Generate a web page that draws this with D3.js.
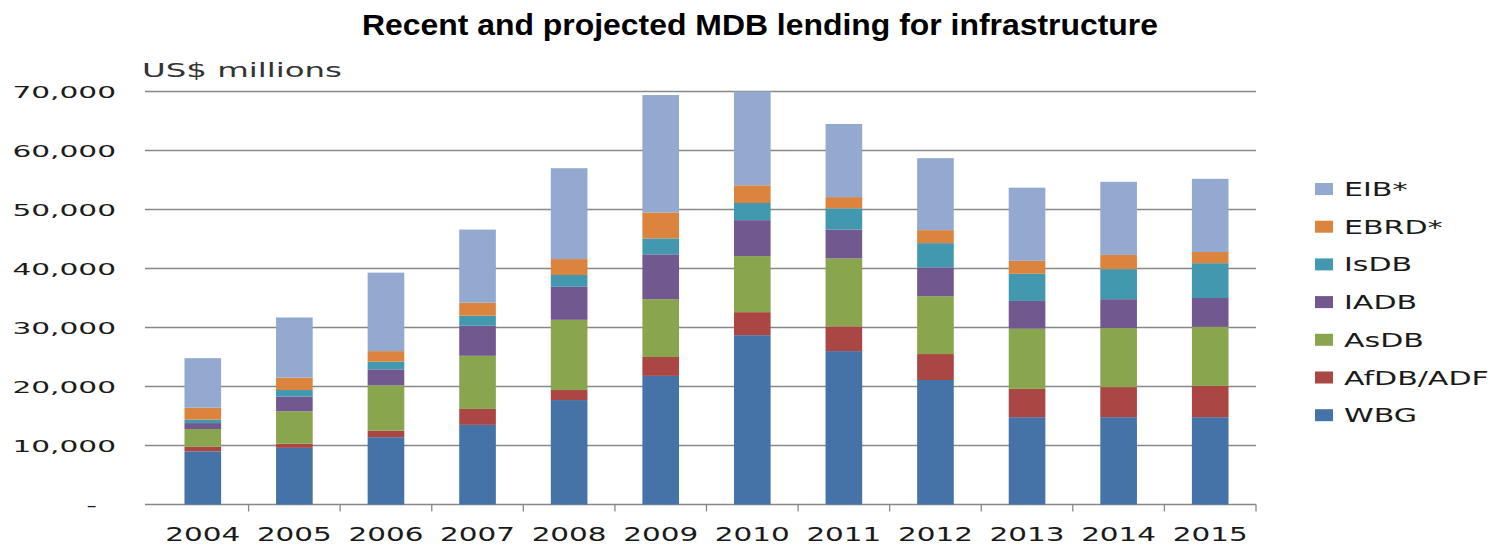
<!DOCTYPE html>
<html>
<head>
<meta charset="utf-8">
<script src="https://cdn.jsdelivr.net/npm/d3@7"></script>
<style>
  body { margin: 0; background: #fff; }
  text { font-family: "DejaVu Sans", Verdana, sans-serif; fill: #1a1a1a; }
</style>
</head>
<body>
<div class="chart"></div>
<script>
// Chart data (US$ millions)
const years = ['2004', '2005', '2006', '2007', '2008', '2009', '2010', '2011', '2012', '2013', '2014', '2015']
const wbg   = [9000, 9600, 11400, 13500, 17700, 21800, 28700, 26000, 21100, 14800, 14800, 14800]
const afdb  = [800, 700, 1100, 2700, 1700, 3200, 3900, 4200, 4400, 4800, 5100, 5300]
const asdb  = [3000, 5500, 7700, 9000, 11900, 9800, 9500, 11500, 9800, 10200, 10000, 10000]
const iadb  = [1000, 2500, 2700, 5100, 5600, 7600, 6100, 4900, 4900, 4700, 4900, 4900]
const isdb  = [600, 1100, 1300, 1700, 2000, 2700, 2900, 3600, 4100, 4600, 5100, 5900]
const ebrd  = [2000, 2100, 1800, 2200, 2700, 4400, 3000, 1900, 2200, 2200, 2400, 1900]
const eib   = [8400, 10200, 13300, 12400, 15400, 19900, 15900, 12400, 12200, 12400, 12400, 12400]

// Series, bottom to top of each stack
const seriesNames = ['WBG', 'AfDB/ADF', 'AsDB', 'IADB', 'IsDB', 'EBRD*', 'EIB*']
const seriesValues = [wbg, afdb, asdb, iadb, isdb, ebrd, eib]
const colors = ['#4572a7', '#aa4643', '#89a54e', '#71588f', '#4198af', '#db843d', '#93a9cf']
const yTicks = [0, 10000, 20000, 30000, 40000, 50000, 60000, 70000]

const width = 1495
const height = 547

// build table for d3.stack
let table = years.map((y, i) => {
    let row = {year: y}
    seriesNames.forEach((s, j) => row[s] = seriesValues[j][i])
    return row
})
let stacked = d3.stack().keys(seriesNames)(table)

let svg = d3.select('.chart')
    .append('svg')
    .attr('width', width)
    .attr('height', height)

let x = d3.scaleBand()
    .domain(years)
    .range([157, 1256])
    .paddingInner(0.6)
    .paddingOuter(0.3)

let y = d3.scaleLinear()
    .domain([0, 70000])
    .range([504.5, 91.5])

// stretch text horizontally, the reference fonts are wide
function stretch(sel, sx) {
    sel.each(function () {
        let w = this.getComputedTextLength()
        d3.select(this)
            .attr('textLength', w * sx)
            .attr('lengthAdjust', 'spacingAndGlyphs')
    })
}

// gridlines
svg.append('g')
    .selectAll('line')
    .data(yTicks)
    .enter()
    .append('line')
    .attr('x1', 145)
    .attr('x2', 1256)
    .attr('y1', d => y(d))
    .attr('y2', d => y(d))
    .style('stroke', '#888')
    .style('stroke-width', 1.3)

// category ticks under the baseline
let step = x.step()
svg.append('g')
    .selectAll('line')
    .data(years)
    .enter()
    .append('line')
    .attr('x1', (d, i) => 157 + (i + 1) * step)
    .attr('x2', (d, i) => 157 + (i + 1) * step)
    .attr('y1', y(0))
    .attr('y2', y(0) + 7)
    .style('stroke', '#888')
    .style('stroke-width', 1.3)

// bars
svg.append('g')
    .selectAll('g')
    .data(stacked)
    .enter()
    .append('g')
    .attr('fill', (d, i) => colors[i])
    .selectAll('rect')
    .data(d => d)
    .enter()
    .append('rect')
    .attr('x', d => x(d.data.year))
    .attr('width', x.bandwidth())
    .attr('y', d => y(d[1]))
    .attr('height', d => y(d[0]) - y(d[1]))

// y labels
let yLab = svg.append('g')
    .selectAll('text')
    .data(yTicks)
    .enter()
    .append('text')
    .attr('text-anchor', 'end')
    .attr('font-size', 16)
    .attr('x', d => d === 0 ? 97 : 116)
    .attr('y', d => y(d) + 6)
    .text(d => d === 0 ? '-' : d3.format(',')(d))
stretch(yLab, 1.85)

// x labels
let xLab = svg.append('g')
    .selectAll('text')
    .data(years)
    .enter()
    .append('text')
    .attr('text-anchor', 'middle')
    .attr('font-size', 19)
    .attr('x', d => x(d) + x.bandwidth() / 2)
    .attr('y', 541)
    .text(d => d)
stretch(xLab, 1.55)

// unit label
let unit = svg.append('text')
    .attr('x', 142)
    .attr('y', 77)
    .attr('font-size', 20)
    .style('fill', '#333')
    .text('US$ millions')
stretch(unit, 1.62)

// title
svg.append('text')
    .attr('x', 760)
    .attr('y', 35)
    .attr('text-anchor', 'middle')
    .attr('font-size', 29)
    .attr('font-weight', 'bold')
    .style('font-family', '"Liberation Sans", Arial, sans-serif')
    .style('fill', '#000')
    .attr('textLength', 796)
    .attr('lengthAdjust', 'spacingAndGlyphs')
    .text('Recent and projected MDB lending for infrastructure')

// legend, top item is the top of the stack
let legend = svg.append('g')
    .selectAll('g')
    .data(seriesNames.slice().reverse())
    .enter()
    .append('g')
    .attr('transform', (d, i) => 'translate(1315,' + (189 + i * 37.7) + ')')

legend.append('rect')
    .attr('x', 0)
    .attr('y', -6)
    .attr('width', 18)
    .attr('height', 12)
    .attr('fill', d => colors[seriesNames.indexOf(d)])

let legText = legend.append('text')
    .attr('x', 29)
    .attr('y', 7)
    .attr('font-size', 19)
    .text(d => d)
stretch(legText, 1.58)
</script>
</body>
</html>
